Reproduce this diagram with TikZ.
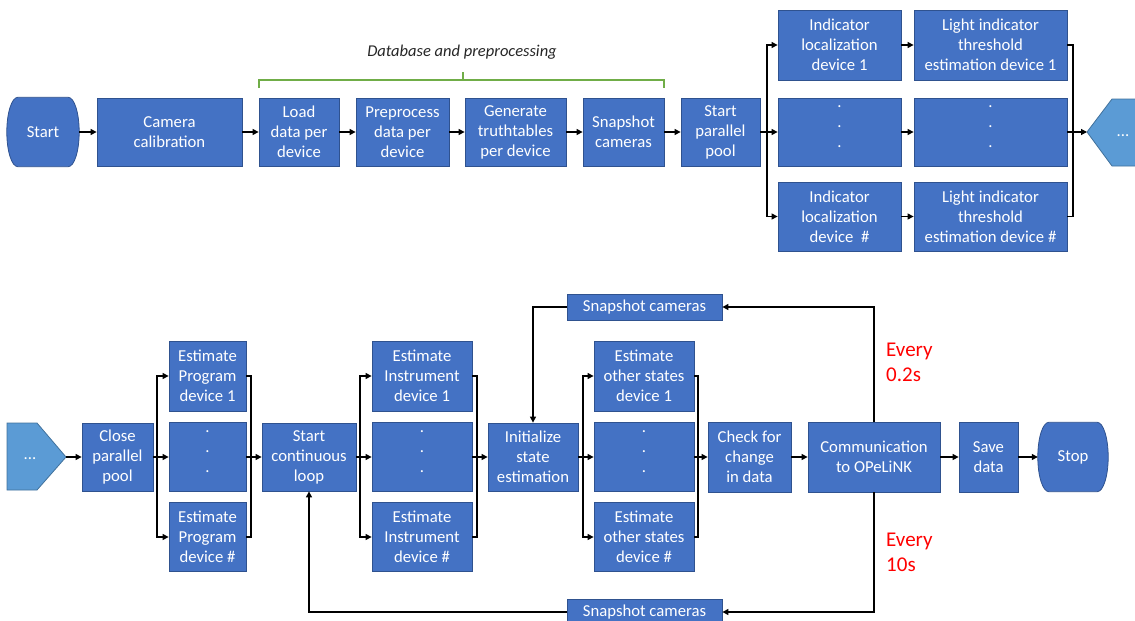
\documentclass[tikz,border=0pt]{standalone}
\usepackage{fontspec}
\setmainfont{Carlito}
\usetikzlibrary{arrows.meta,calc}
\definecolor{boxblue}{HTML}{4472C4}
\definecolor{boxedge}{HTML}{2F528F}
\definecolor{pentblue}{HTML}{5B9BD5}
\definecolor{pentedge}{HTML}{41719C}
\definecolor{brgreen}{HTML}{70AD47}
\definecolor{notered}{HTML}{FF0000}
\definecolor{labelgray}{HTML}{262626}

\pgfdeclarelayer{shapes}
\pgfsetlayers{shapes,main}

\tikzset{
  boxfont/.style={font=\fontsize{16.7}{20}\selectfont},
  proc/.style={draw=boxedge, line width=0.8pt, fill=boxblue, text=white,
    align=center, inner sep=0pt, boxfont},
  termtext/.style={text=white, align=center, inner sep=0pt, boxfont},
  termshape/.style={draw=boxedge, line width=0.8pt, fill=boxblue},
  sz/.style 2 args={minimum width=#1pt, minimum height=#2pt},
  pent/.style={draw=pentedge, line width=0.8pt, fill=pentblue},
  conn/.style={line width=1.2pt, -{Triangle[length=6pt,width=6pt]}},
  plain/.style={line width=1.2pt},
  note/.style={text=notered, align=left, anchor=west, inner sep=0pt,
    font=\fontsize{21}{25}\selectfont},
}

% terminator outline: straight top and bottom, half-elliptic bulging sides
\newcommand\termoutline[1]{%
  \begin{pgfonlayer}{shapes}
  \draw[termshape]
    ($(#1.north west)+(11,0)$) -- ($(#1.north east)+(-11,0)$)
    .. controls ($(#1.north east)+(-4.9,0)$) and ($(#1.east)+(0,-19)$) .. (#1.east)
    .. controls ($(#1.east)+(0,19)$) and ($(#1.south east)+(-4.9,0)$) .. ($(#1.south east)+(-11,0)$)
    -- ($(#1.south west)+(11,0)$)
    .. controls ($(#1.south west)+(4.9,0)$) and ($(#1.west)+(0,19)$) .. (#1.west)
    .. controls ($(#1.west)+(0,-19)$) and ($(#1.north west)+(4.9,0)$) .. cycle;
  \end{pgfonlayer}}

\begin{document}
\begin{tikzpicture}[x=1pt, y=-1pt]
\clip (0,0) rectangle (1135,621);

% ---------------- first stage ----------------
\node[termtext, sz={72}{69}] (start) at (43,132) {Start};
\termoutline{start}
\node[proc, sz={145}{68}] (cam) at (169.5,132) {Camera\\calibration};
\node[proc, sz={80}{68}] (load) at (299,132) {Load\\data per\\device};
\node[proc, sz={93}{68}] (prep) at (402.5,132) {Preprocess\\data per\\device};
\node[proc, sz={101}{68}] (gen) at (515.5,132) {Generate\\truthtables\\per device};
\node[proc, sz={81}{68}] (snapA) at (623.5,132) {Snapshot\\cameras};
\node[proc, sz={79}{68}] (pool) at (720.5,132) {Start\\parallel\\pool};

\node[proc, sz={123}{70}] (loc1) at (839.5,45) {Indicator\\localization\\device 1};
\node[proc, sz={123}{68}] (loc2) at (839.5,132) {.\\.\\.\\[-10pt]\mbox{}};
\node[proc, sz={123}{69}] (loc3) at (839.5,216.5) {Indicator\\localization\\device~~\#};
\node[proc, sz={153}{70}] (thr1) at (990.5,45) {Light indicator\\threshold\\estimation device 1};
\node[proc, sz={153}{68}] (thr2) at (990.5,132) {.\\.\\.\\[-10pt]\mbox{}};
\node[proc, sz={153}{69}] (thr3) at (990.5,216.5) {Light indicator\\threshold\\estimation device \#};

% continuation marker (right)
\draw[pent] (1087,132) -- (1112,99) -- (1160,99) -- (1160,166) -- (1112,166) -- cycle;
\coordinate (contA) at (1087,132);
\node[text=white, boxfont] (dotsA) at (1123,136) {...};

% bracket over the database steps
\draw[brgreen, line width=1.5pt] (259,88) -- (259,80) -- (664,80) -- (664,88);
\draw[brgreen, line width=1.5pt] (463,80) -- (463,72);
\node[text=labelgray, font=\fontsize{16.5}{20}\selectfont\itshape] (dbl) at (462,52) {Database and preprocessing};

% connectors, first stage
\draw[conn] (start.east) -- (cam.west);
\draw[conn] (cam.east) -- (load.west);
\draw[conn] (load.east) -- (prep.west);
\draw[conn] (prep.east) -- (gen.west);
\draw[conn] (gen.east) -- (snapA.west);
\draw[conn] (snapA.east) -- (pool.west);

\coordinate (splitA) at (767,132);
\coordinate (mergeA) at (1073,132);
\draw[plain] (pool.east) -- (splitA);
\draw[conn] (splitA) |- (loc1.west);
\draw[conn] (splitA) -- (loc2.west);
\draw[conn] (splitA) |- (loc3.west);
\draw[conn] (loc1.east) -- (thr1.west);
\draw[conn] (loc2.east) -- (thr2.west);
\draw[conn] (loc3.east) -- (thr3.west);
\draw[plain] (thr1.east) -| (mergeA);
\draw[plain] (thr3.east) -| (mergeA);
\draw[conn] (thr2.east) -- (contA);

% ---------------- second stage ----------------
\draw[pent] (7,423) -- (37,423) -- (66,457) -- (37,490) -- (7,490) -- cycle;
\coordinate (contB) at (66,457);
\node[text=white, boxfont] (dotsB) at (30,459) {...};

\node[proc, sz={71}{68}] (close) at (117.5,457) {Close\\parallel\\pool};
\node[proc, sz={77}{70}] (prog1) at (207.5,376) {Estimate\\Program\\device 1};
\node[proc, sz={77}{69}] (prog2) at (207.5,457) {.\\.\\.\\[-10pt]\mbox{}};
\node[proc, sz={77}{69}] (prog3) at (207.5,537) {Estimate\\Program\\device \#};
\node[proc, sz={94}{68}] (loop) at (309,457) {Start\\continuous\\loop};
\node[proc, sz={100}{70}] (inst1) at (422,376) {Estimate\\Instrument\\device 1};
\node[proc, sz={100}{69}] (inst2) at (422,457) {.\\.\\.\\[-10pt]\mbox{}};
\node[proc, sz={100}{69}] (inst3) at (422,537) {Estimate\\Instrument\\device \#};
\node[proc, sz={90}{68}] (init) at (533,457) {Initialize\\state\\estimation};
\node[proc, sz={100}{70}] (oth1) at (644,376) {Estimate\\other states\\device 1};
\node[proc, sz={100}{69}] (oth2) at (644,457) {.\\.\\.\\[-10pt]\mbox{}};
\node[proc, sz={100}{69}] (oth3) at (644,537) {Estimate\\other states\\device \#};
\node[proc, sz={83}{70}] (check) at (749.5,457) {Check for\\change\\in data};
\node[proc, sz={132}{70}] (comm) at (874,457) {Communication\\to OPeLiNK};
\node[proc, sz={59}{70}] (save) at (988.5,457) {Save\\data};
\node[termtext, sz={70}{69}] (stop) at (1073,457) {Stop};
\termoutline{stop}

\node[proc, sz={155}{26}] (snapT) at (644.5,307) {Snapshot cameras};
\node[proc, sz={155}{26}] (snapB) at (644.5,612) {Snapshot cameras};

\node[note] (every1) at (886,362) {Every\\0.2s};
\node[note] (every2) at (886,552) {Every\\10s};

% connectors, second stage
\draw[conn] (contB) -- (close.west);

\coordinate (splitP) at (157,457);
\coordinate (mergeP) at (251,457);
\draw[plain] (close.east) -- (splitP);
\draw[conn] (splitP) |- (prog1.west);
\draw[conn] (splitP) -- (prog2.west);
\draw[conn] (splitP) |- (prog3.west);
\draw[plain] (prog1.east) -| (mergeP);
\draw[plain] (prog3.east) -| (mergeP);
\draw[conn] (prog2.east) -- (loop.west);

\coordinate (splitI) at (360,457);
\coordinate (mergeI) at (477,457);
\draw[plain] (loop.east) -- (splitI);
\draw[conn] (splitI) |- (inst1.west);
\draw[conn] (splitI) -- (inst2.west);
\draw[conn] (splitI) |- (inst3.west);
\draw[plain] (inst1.east) -| (mergeI);
\draw[plain] (inst3.east) -| (mergeI);
\draw[conn] (inst2.east) -- (init.west);

\coordinate (splitO) at (583,457);
\coordinate (mergeO) at (698,457);
\draw[plain] (init.east) -- (splitO);
\draw[conn] (splitO) |- (oth1.west);
\draw[conn] (splitO) -- (oth2.west);
\draw[conn] (splitO) |- (oth3.west);
\draw[plain] (oth1.east) -| (mergeO);
\draw[plain] (oth3.east) -| (mergeO);
\draw[conn] (oth2.east) -- (check.west);

\draw[conn] (check.east) -- (comm.west);
\draw[conn] (comm.east) -- (save.west);
\draw[conn] (save.east) -- (stop.west);

% feedback loops
\draw[conn] (comm.north) |- (snapT.east);
\draw[conn] (snapT.west) -| (init.north);
\draw[conn] (comm.south) |- (snapB.east);
\draw[conn] (snapB.west) -| (loop.south);
\end{tikzpicture}
\end{document}
